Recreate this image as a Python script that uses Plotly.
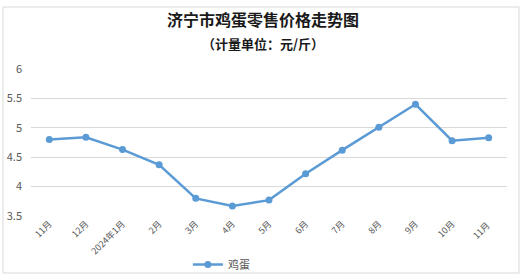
import plotly.graph_objects as go

months = ["11月", "12月", "2024年1月", "2月", "3月", "4月", "5月", "6月", "7月", "8月", "9月", "10月", "11月 "]
prices = [4.80, 4.84, 4.63, 4.37, 3.80, 3.67, 3.77, 4.22, 4.62, 5.01, 5.40, 4.78, 4.83]
series_name = "鸡蛋"
y_ticks = [3.5, 4, 4.5, 5, 5.5, 6]
y_labels = ["3.5", "4", "4.5", "5", "5.5", "6"]

fig = go.Figure()
fig.add_trace(go.Scatter(
    x=months, y=prices, mode="lines+markers", name=series_name,
    line=dict(color="#5B9BD5", width=2.5),
    marker=dict(color="#5B9BD5", size=7),
))

fig.update_layout(
    width=526, height=279,
    margin=dict(l=31, r=19, t=69, b=63, autoexpand=False),
    paper_bgcolor="white", plot_bgcolor="white",
    showlegend=True,
    legend=dict(orientation="h", x=0.40, xanchor="center", y=-0.33, yanchor="middle",
                font=dict(family="Noto Sans CJK SC", size=11, color="#595959"),
                bgcolor="rgba(0,0,0,0)"),
    xaxis=dict(type="category", showgrid=False, showline=False, zeroline=False,
               range=[-0.5, len(months) - 0.5],
               tickangle=-45, ticks="", automargin=False,
               tickfont=dict(family="Noto Sans CJK SC", size=9, color="#595959")),
    yaxis=dict(range=[3.5, 6], tickvals=y_ticks, ticktext=y_labels,
               showgrid=True, gridcolor="#D9D9D9", gridwidth=1, automargin=False,
               showline=False, zeroline=False, ticks="", ticklabelstandoff=8,
               tickfont=dict(family="Noto Sans CJK SC", size=11, color="#595959")),
    annotations=[
        dict(text="<b>济宁市鸡蛋零售价格走势图</b>", xref="paper", yref="paper",
             x=(263 - 31) / 476, y=(216 - 19) / 147, xanchor="center", yanchor="middle",
             showarrow=False, font=dict(family="Noto Sans CJK SC", size=16, color="#1a1a1a")),
        dict(text="<b>（计量单位：元/斤）</b>", xref="paper", yref="paper",
             x=(263 - 31) / 476, y=(216 - 43) / 147, xanchor="center", yanchor="middle",
             showarrow=False, font=dict(family="Noto Sans CJK SC", size=13, color="#1a1a1a")),
    ],
    shapes=[dict(type="rect", xref="paper", yref="paper",
                 x0=(3 - 31) / 476, x1=(519 - 31) / 476,
                 y0=(216 - 273) / 147, y1=(216 - 7) / 147,
                 line=dict(color="#D9D9D9", width=1), fillcolor="rgba(0,0,0,0)", layer="below")],
)

fig.write_html("out.html")
